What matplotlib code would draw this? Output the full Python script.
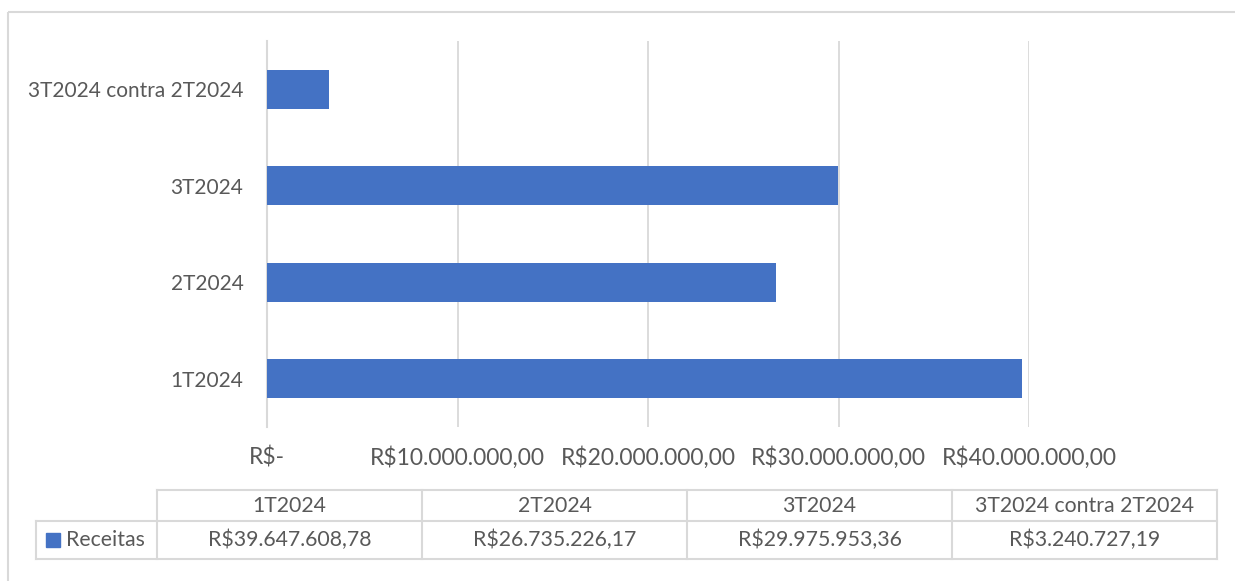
import matplotlib
matplotlib.use("Agg")
import matplotlib.pyplot as plt
from matplotlib.ticker import FuncFormatter, MultipleLocator
from matplotlib.patches import Rectangle

# ---- data ----
categories = ["1T2024", "2T2024", "3T2024", "3T2024 contra 2T2024"]
receitas = [39647608.78, 26735226.17, 29975953.36, 3240727.19]
series_name = "Receitas"
x_max = 40000000
x_step = 10000000

BLUE = "#4472C4"
GRID = "#D9D9D9"
TXT = "#595959"
FONT = ["Lato", "DejaVu Sans"]

plt.rcParams["font.family"] = FONT

def brl(v):
    if v == 0:
        return "R$-"
    s = f"{v:,.2f}"
    s = s.replace(",", "X").replace(".", ",").replace("X", ".")
    return "R$" + s

W, H = 1235, 581
fig = plt.figure(figsize=(W / 100, H / 100), dpi=100)

# overlay for border & table (pixel coordinates)
ov = fig.add_axes([0, 0, 1, 1])
ov.set_xlim(0, W)
ov.set_ylim(H, 0)
ov.axis("off")

# chart area border (left & top visible)
ov.plot([8, 8], [12, H], color=GRID, lw=1.5, solid_capstyle="butt")
ov.plot([8, W], [12, 12], color=GRID, lw=1.5, solid_capstyle="butt")

# main axes
left_px, right_px, top_px, bot_px = 267, 1029, 41, 427
ax = fig.add_axes([left_px / W, 1 - bot_px / H, (right_px - left_px) / W, (bot_px - top_px) / H])
ax.set_zorder(2)
ax.patch.set_alpha(0)

ypos = list(range(len(categories)))
ax.barh(ypos, receitas, height=0.4, color=BLUE, zorder=3)
ax.set_yticks(ypos)
ax.set_yticklabels(categories)
ax.set_ylim(-0.5, len(categories) - 0.5)
ax.set_xlim(0, x_max)
ax.xaxis.set_major_locator(MultipleLocator(x_step))
ax.xaxis.set_major_formatter(FuncFormatter(lambda v, p: brl(v)))
ax.grid(axis="x", color=GRID, lw=1.3, zorder=0)
ax.set_axisbelow(True)
for s in ["top", "right", "bottom"]:
    ax.spines[s].set_visible(False)
ax.spines["left"].set_color(GRID)
ax.spines["left"].set_linewidth(1.5)
ax.tick_params(axis="y", length=0, pad=17, labelsize=15, labelcolor=TXT)
ax.tick_params(axis="x", length=0, pad=14, labelsize=16.5, labelcolor=TXT)

# ---- data table ----
col_x = [157, 422, 687, 952, 1217]
lab_x0 = 36
row_y = [490, 521, 559]
lw_t = 1.5
TFS = 15.3
ov.plot([col_x[0], col_x[-1]], [row_y[0], row_y[0]], color=GRID, lw=lw_t)
ov.plot([lab_x0, col_x[-1]], [row_y[1], row_y[1]], color=GRID, lw=lw_t)
ov.plot([lab_x0, col_x[-1]], [row_y[2], row_y[2]], color=GRID, lw=lw_t)
for cx in col_x:
    ov.plot([cx, cx], [row_y[0], row_y[2]], color=GRID, lw=lw_t)
ov.plot([lab_x0, lab_x0], [row_y[1], row_y[2]], color=GRID, lw=lw_t)

for i, (cat, val) in enumerate(zip(categories, receitas)):
    cx = (col_x[i] + col_x[i + 1]) / 2
    ov.text(cx, (row_y[0] + row_y[1]) / 2, cat, ha="center", va="center",
            fontsize=TFS, color=TXT)
    ov.text(cx, (row_y[1] + row_y[2]) / 2, brl(val), ha="center", va="center",
            fontsize=TFS, color=TXT)

ov.add_patch(Rectangle((46, 533), 14, 14, color=BLUE))
ov.text(66, (row_y[1] + row_y[2]) / 2, series_name, ha="left", va="center",
        fontsize=TFS, color=TXT)

fig.savefig("out.png", dpi=100)
